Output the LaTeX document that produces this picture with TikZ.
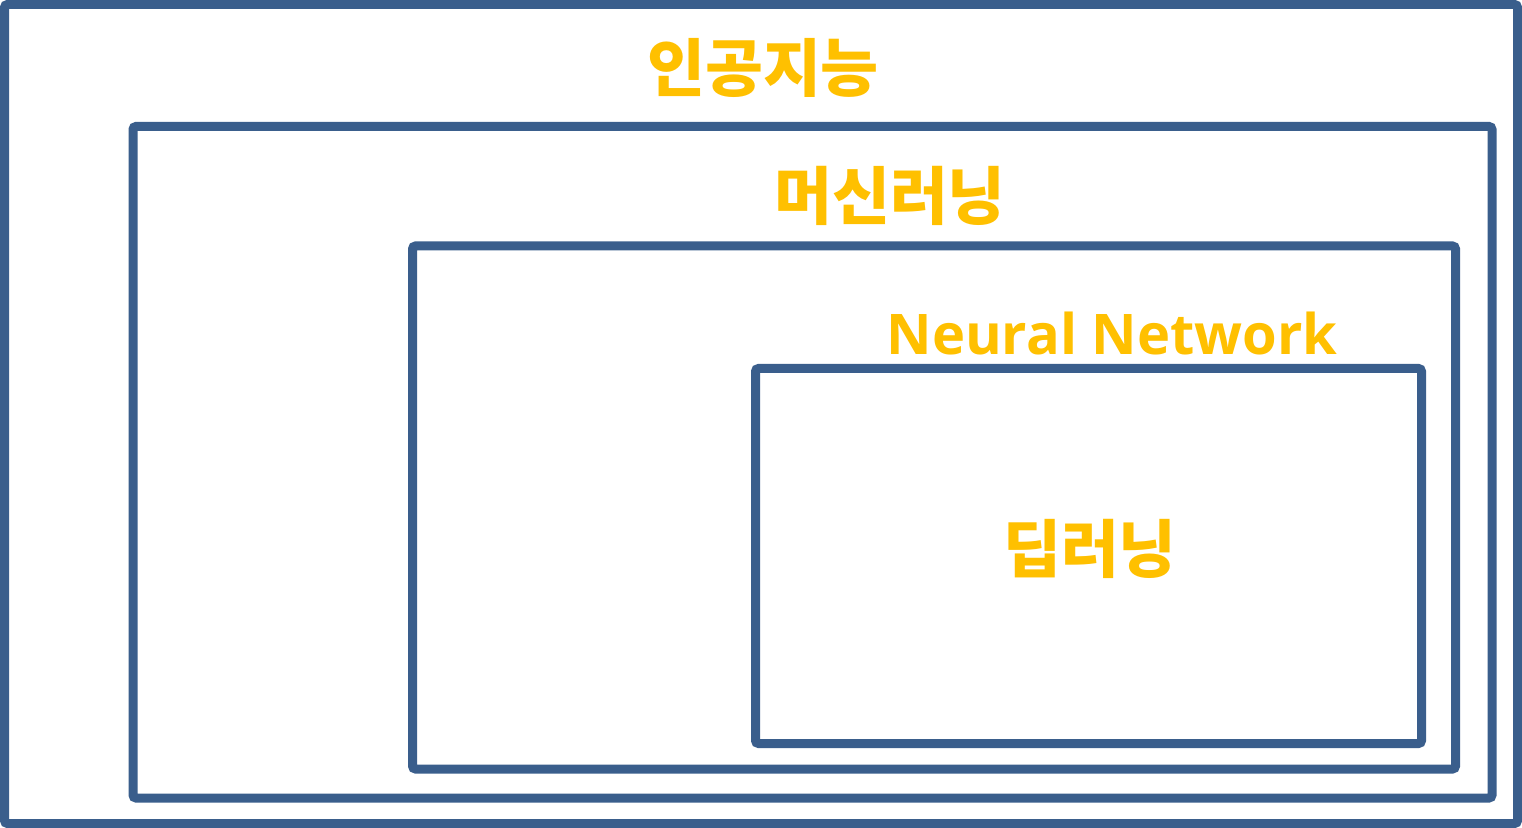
\documentclass[tikz,border=0pt]{standalone}
\usepackage{fontspec}
\newfontfamily\kr{Noto Sans CJK KR}
\newfontfamily\lat{Open Sans}
\definecolor{boxblue}{HTML}{3A5E8C}
\definecolor{gold}{HTML}{FFC000}
\tikzset{
  frame/.style={draw=boxblue, line width=4.5pt, rounded corners=1.5pt},
  krlabel/.style={text=gold, font=\kr\bfseries\fontsize{31.5}{36}\selectfont, inner sep=0pt},
  latlabel/.style={text=gold, font=\lat\bfseries\fontsize{28}{34}\selectfont, inner sep=0pt}
}
\begin{document}
\begin{tikzpicture}[x=0.5pt,y=-0.5pt]
\useasboundingbox (0,0) rectangle (1522,828);
\fill[white] (0,0) rectangle (1522,828);
\draw[frame] (4.5,4.5) rectangle (1517.5,823.5);
\draw[frame] (133,126.5) rectangle (1492,798);
\draw[frame] (412.5,246) rectangle (1455.5,769);
\draw[frame] (755.5,368.5) rectangle (1421.5,743.5);
\node[krlabel] (ai) at (763,68) {인공지능};
\node[krlabel] (ml) at (890,196) {머신러닝};
\node[latlabel, anchor=base] (nn) at (1112,355) {Neural Network};
\node[krlabel] (dl) at (1090,549) {딥러닝};
\end{tikzpicture}
\end{document}
